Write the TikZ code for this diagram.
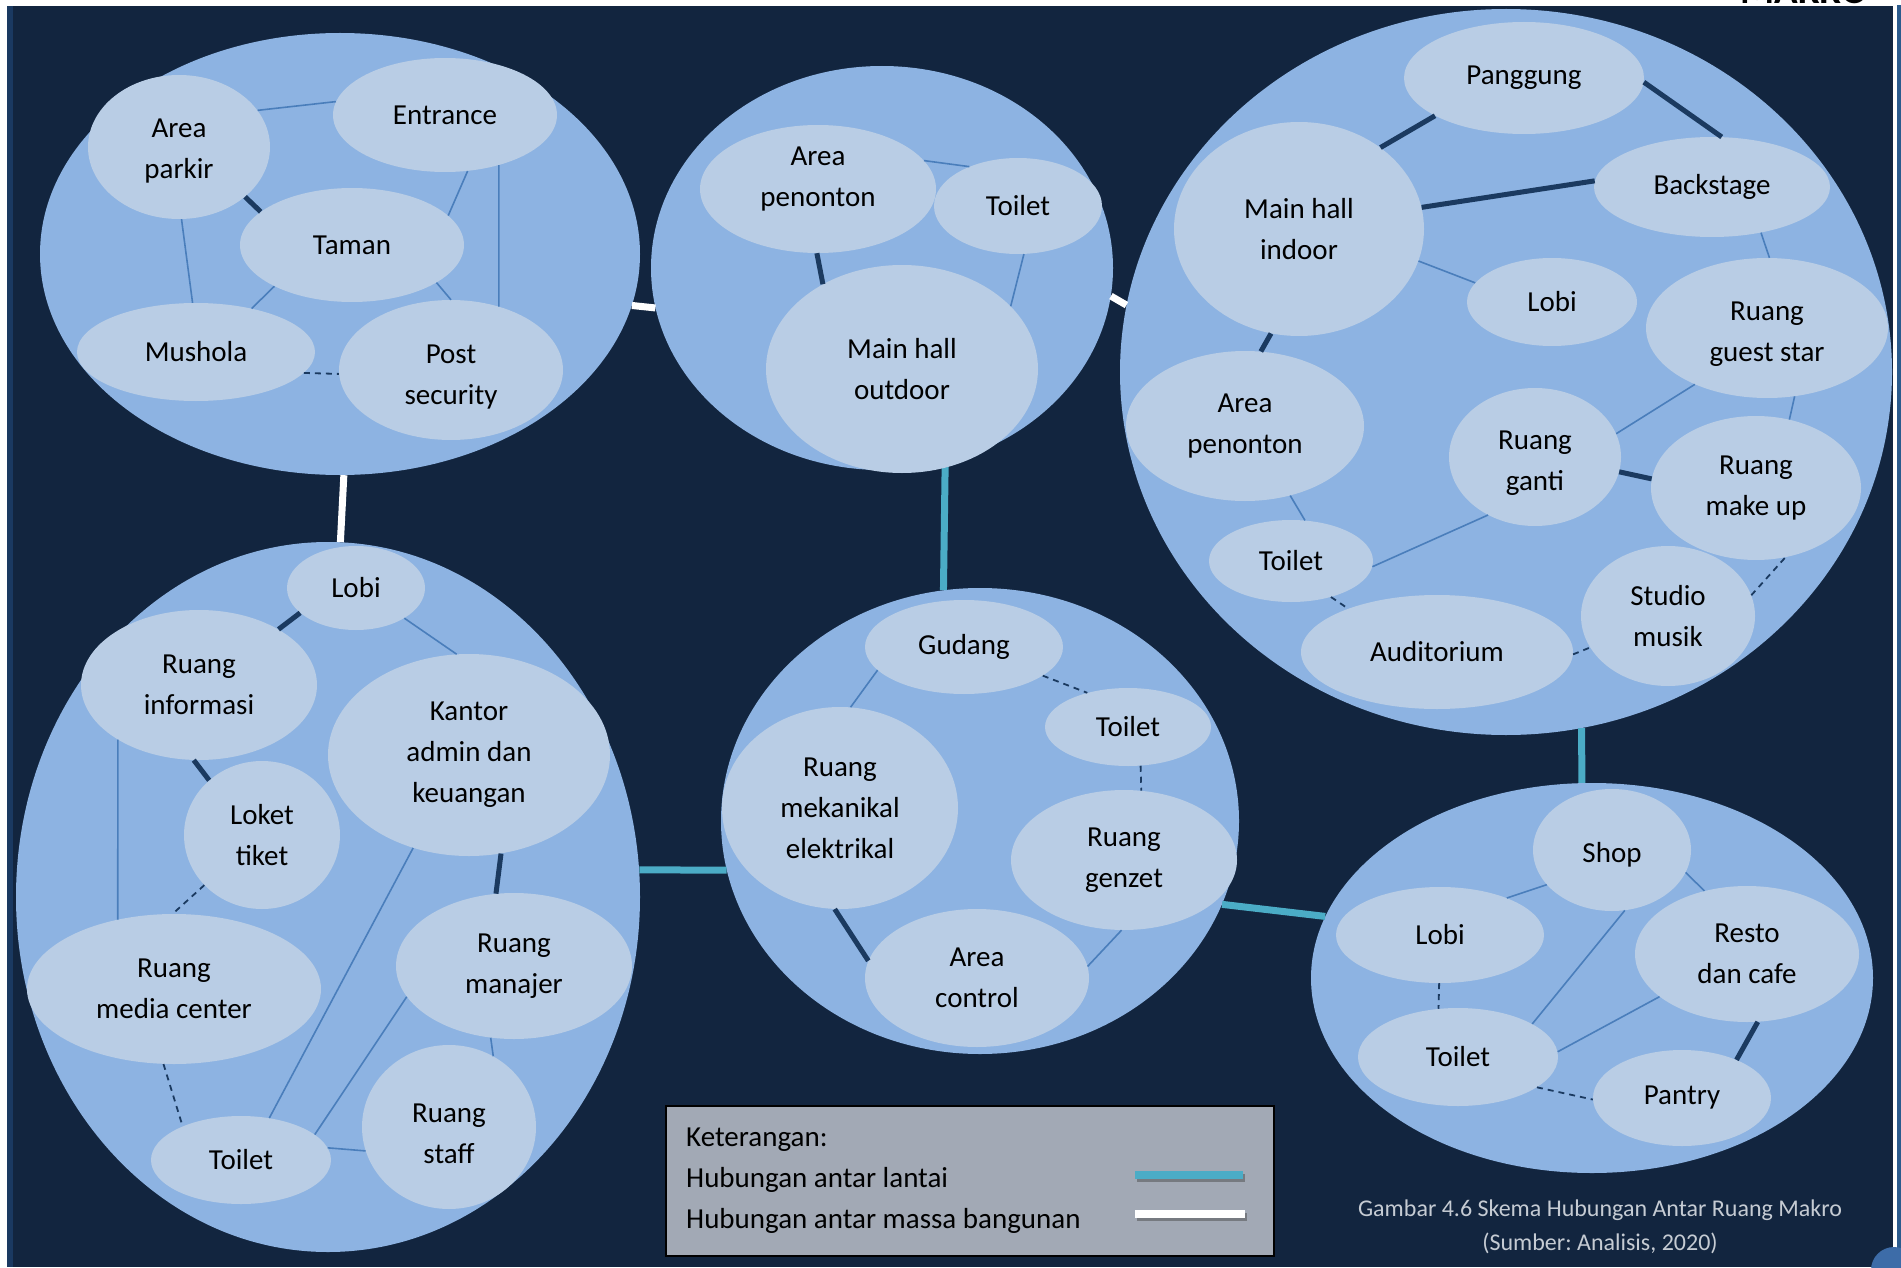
\documentclass[tikz,border=0pt]{standalone}
\usepackage{fontspec}
\setmainfont{Carlito}
\usepackage{tikz}
\usetikzlibrary{shapes.geometric}

\definecolor{navy}{HTML}{12253F}
\definecolor{navyedge}{HTML}{1A3961}
\definecolor{rightedge}{HTML}{2B5B8D}
\definecolor{blobblue}{HTML}{3D6CA8}
\definecolor{zonefill}{HTML}{8DB3E2}
\definecolor{roomfill}{HTML}{B9CDE5}
\definecolor{thinblue}{HTML}{4A7EBB}
\definecolor{darklink}{HTML}{1B3A60}
\definecolor{floorteal}{HTML}{4BACC6}
\definecolor{legendgray}{HTML}{A2A9B5}
\definecolor{captiongray}{HTML}{C5CBD3}

\begin{document}
\frenchspacing
\begin{tikzpicture}[x=1pt, y=-1pt, font=\fontsize{29}{41}\selectfont,
        zone/.style 2 args={ellipse, fill=zonefill, inner sep=0pt, minimum width=#1pt, minimum height=#2pt},
        room/.style 2 args={ellipse, fill=roomfill, inner sep=0pt, align=center, minimum width=#1pt, minimum height=#2pt},
        thinlink/.style={thinblue, line width=1.6pt},
        thicklink/.style={darklink, line width=5pt},
        dashlink/.style={darklink, line width=1.8pt, dash pattern=on 6pt off 5pt},
        floorlink/.style={floorteal, line width=7pt},
        masslink/.style={white, line width=7pt},
        legtext/.style={anchor=base west, inner sep=0pt}]
        \useasboundingbox (0,0) rectangle (1901,1268);
        \fill[white] (0,0) rectangle (1901,1268);
        \fill[navy] (7,6) rectangle (1893,1267);
        \fill[navyedge] (7,6) rectangle (13,1267);
        \fill[rightedge] (1897,5) rectangle (1901,1268);
        \fill[blobblue] (1894,1270) circle (23pt);
        \node[font=\fontsize{39}{46}\selectfont\bfseries, anchor=base east] (makro) at (1871,4) {MAKRO};

        \node[zone={600}{442}] (zoneA) at (340,254) {};
        \node[zone={462}{404}] (zoneB) at (882,268) {};
        \node[zone={772}{726}] (zoneC) at (1506,372) {};
        \node[zone={624}{710}] (zoneD) at (328,897) {};
        \node[zone={518}{466}] (zoneE) at (980,821) {};
        \node[zone={562}{390}] (zoneF) at (1592,978) {};
        \draw[masslink] (zoneA.-10) -- (zoneB.190);
        \draw[masslink] (zoneB.-7) -- (zoneC.170);
        \draw[masslink] (zoneA.-89) -- (zoneD.88);
        \draw[floorlink] (zoneB.-72) -- (zoneE.99);
        \draw[floorlink] (zoneD.5) -- (zoneE.191);
        \draw[floorlink] (zoneE.-19) -- (zoneF.167);
        \draw[floorlink] (zoneC.-78) -- (zoneF.93);

        \node[room={182}{144}] (parkA) at (179,147) {\rule{0pt}{26pt}Area\\parkir};
        \node[room={224}{114}] (entA) at (445,115) {Entrance};
        \node[room={224}{114}] (tamA) at (352,245) {Taman};
        \node[room={238}{98}] (musA) at (196,352) {Mushola};
        \node[room={224}{140}] (postA) at (451,370) {\rule{0pt}{32pt}Post\\security};
        \draw[thinlink] (parkA.25) -- (entA.173);
        \draw[thicklink] (parkA.-37) -- (tamA.160);
        \draw[thinlink] (entA.-68) -- (tamA.17);
        \draw[thinlink] (entA.-43) -- (postA.53);
        \draw[thinlink] (parkA.-88) -- (musA.94);
        \draw[thinlink] (tamA.-152) -- (musA.38);
        \draw[thinlink] (tamA.-24) -- (postA.90);
        \draw[dashlink] (musA.-11) -- (postA.182);

        \node[room={236}{128}] (penB) at (818,189) {Area\\penonton\rule[-24pt]{0pt}{0pt}};
        \node[room={168}{96}] (toiB) at (1018,206) {Toilet};
        \node[room={272}{208}] (mhoB) at (902,369) {Main hall\\outdoor};
        \draw[thinlink] (penB.15) -- (toiB.141);
        \draw[thicklink] (penB.-91) -- (mhoB.133);
        \draw[thinlink] (toiB.-83) -- (mhoB.30);

        \node[room={240}{112}] (pangC) at (1524,78) {Panggung};
        \node[room={250}{214}] (mhiC) at (1299,229) {Main hall\\indoor};
        \node[room={236}{100}] (backC) at (1712,187) {Backstage};
        \node[room={170}{88}] (lobiC) at (1552,302) {Lobi};
        \node[room={242}{140}] (guestC) at (1767,328) {\rule{0pt}{31pt}Ruang\\guest star};
        \node[room={238}{150}] (penC) at (1245,426) {Area\\penonton};
        \node[room={172}{138}] (gantiC) at (1535,457) {\rule{0pt}{31pt}Ruang\\ganti};
        \node[room={210}{144}] (makeC) at (1756,488) {Ruang\\make up};
        \node[room={164}{82}] (toiC) at (1291,561) {Toilet};
        \node[room={174}{140}] (studC) at (1668,616) {Studio\\musik};
        \node[room={272}{114}] (audC) at (1437,652) {Auditorium};
        \draw[thicklink] (mhiC.45) -- (pangC.-157);
        \draw[thicklink] (pangC.-2) -- (backC.79);
        \draw[thicklink] (mhiC.10) -- (backC.177);
        \draw[thinlink] (mhiC.-15) -- (lobiC.166);
        \draw[thinlink] (backC.-43) -- (guestC.88);
        \draw[thicklink] (mhiC.-105) -- (penC.78);
        \draw[thinlink] (guestC.-142) -- (gantiC.16);
        \draw[thinlink] (guestC.-68) -- (makeC.64);
        \draw[thicklink] (gantiC.-10) -- (makeC.175);
        \draw[thinlink] (penC.-57) -- (toiC.71);
        \draw[thinlink] (toiC.-4) -- (gantiC.-129);
        \draw[dashlink] (toiC.-42) -- (audC.154);
        \draw[dashlink] (audC.-1) -- (studC.202);
        \draw[dashlink] (studC.14) -- (makeC.-67);

        \node[room={138}{84}] (lobiD) at (356,588) {Lobi};
        \node[room={236}{150}] (infoD) at (199,685) {Ruang\\informasi};
        \node[room={282}{202}] (kanD) at (469,755) {Kantor\\admin dan\\keuangan};
        \node[room={156}{148}] (lokD) at (262,835) {Loket\\tiket};
        \node[room={294}{150}] (medD) at (174,989) {Ruang\\media center};
        \node[room={236}{146}] (manD) at (514,966) {Ruang\\manajer};
        \node[room={174}{164}] (staffD) at (449,1127) {\rule{0pt}{32pt}Ruang\\staff};
        \node[room={180}{88}] (toiD) at (241,1160) {Toilet};
        \draw[thicklink] (lobiD.-156) -- (infoD.35);
        \draw[thinlink] (lobiD.-32) -- (kanD.97);
        \draw[thicklink] (infoD.-94) -- (lokD.134);
        \draw[thinlink] (infoD.-146) -- (medD.129);
        \draw[dashlink] (lokD.-139) -- (medD.91);
        \draw[thicklink] (kanD.-72) -- (manD.104);
        \draw[thinlink] (kanD.-121) -- (toiD.56);
        \draw[thinlink] (manD.196) -- (toiD.19);
        \draw[thinlink] (manD.-108) -- (staffD.58);
        \draw[thinlink] (toiD.8) -- (staffD.196);
        \draw[dashlink] (medD.-98) -- (toiD.150);

        \node[room={198}{94}] (gudE) at (964,647) {Gudang};
        \node[room={166}{78}] (toiE) at (1128,727) {Toilet};
        \node[room={236}{202}] (mekE) at (840,808) {Ruang\\mekanikal\\elektrikal};
        \node[room={226}{140}] (genE) at (1124,860) {Ruang\\genzet};
        \node[room={224}{138}] (conE) at (977,978) {Area\\control};
        \draw[thinlink] (gudE.195) -- (mekE.84);
        \draw[dashlink] (gudE.-20) -- (toiE.140);
        \draw[dashlink] (toiE.-72) -- (genE.76);
        \draw[thicklink] (mekE.-93) -- (conE.171);
        \draw[thinlink] (genE.-92) -- (conE.6);

        \node[room={158}{122}] (shopF) at (1612,850) {\rule{0pt}{30pt}Shop};
        \node[room={208}{96}] (lobiF) at (1440,935) {Lobi};
        \node[room={224}{136}] (restoF) at (1747,954) {Resto\\dan cafe};
        \node[room={200}{98}] (toiF) at (1458,1057) {Toilet};
        \node[room={178}{96}] (panF) at (1682,1098) {Pantry};
        \draw[thinlink] (lobiF.29) -- (shopF.208);
        \draw[thinlink] (shopF.-17) -- (restoF.124);
        \draw[thinlink] (shopF.-78) -- (toiF.24);
        \draw[dashlink] (lobiF.-91) -- (toiF.112);
        \draw[thinlink] (toiF.3) -- (restoF.206);
        \draw[thicklink] (restoF.-81) -- (panF.35);
        \draw[dashlink] (toiF.-21) -- (panF.181);

        \node[draw=black, line width=1.5pt, fill=legendgray, minimum width=608pt, minimum height=150pt] (legend) at (970,1181) {};
        \node[legtext] (keter) at (686,1146) {Keterangan:};
        \node[legtext] (lantai) at (686,1187) {Hubungan antar lantai};
        \node[legtext] (massa) at (686,1228) {Hubungan antar massa bangunan};
        \coordinate (lantaiA) at (1135,1175);
        \coordinate (lantaiB) at (1243,1175);
        \coordinate (massaA) at (1135,1214);
        \coordinate (massaB) at (1245,1214);
        \draw[black!70, opacity=0.5, line width=8pt] ([shift={(2,3)}]lantaiA) -- ([shift={(2,3)}]lantaiB);
        \draw[black!70, opacity=0.5, line width=8pt] ([shift={(2,3)}]massaA) -- ([shift={(2,3)}]massaB);
        \draw[floorlink, line width=8pt] (lantaiA) -- (lantaiB);
        \draw[masslink, line width=8pt] (massaA) -- (massaB);

        \node[text=captiongray, font=\fontsize{24}{34}\selectfont, align=center] (caption) at (1600,1227) {Gambar 4.6 Skema Hubungan Antar Ruang Makro\\(Sumber: Analisis, 2020)};
    \end{tikzpicture}
\end{document}
